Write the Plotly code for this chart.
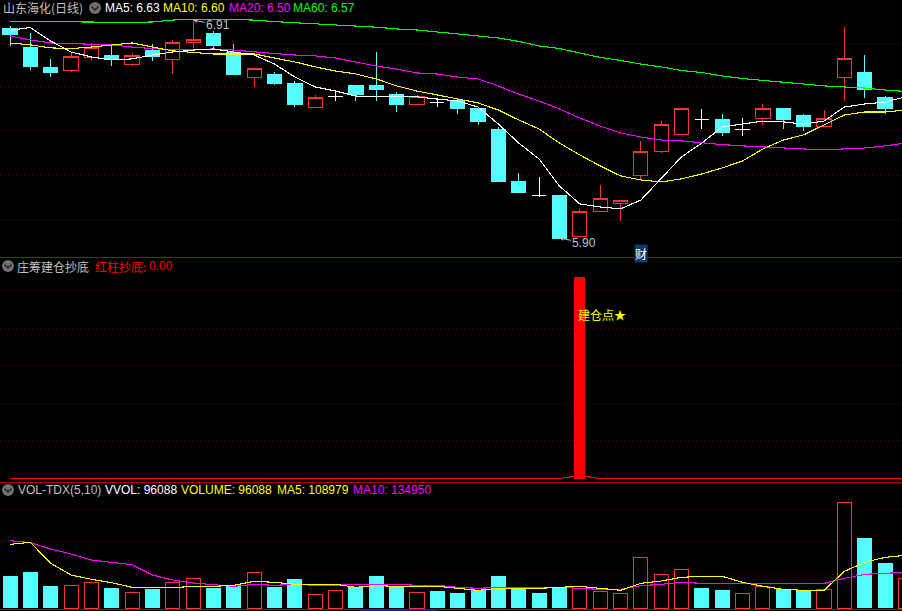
import plotly.graph_objects as go

# ---- price panel ----
opens = [6.873,6.781,6.688,6.674,6.737,6.748,6.706,6.771,6.725,6.804,6.850,6.762,6.642,6.660,6.618,6.503,6.557,6.609,6.609,6.567,6.521,6.526,6.535,6.498,6.405,6.160,6.098,6.099,5.905,6.025,6.058,6.188,6.299,6.382,6.447,6.447,6.405,6.452,6.498,6.466,6.419,6.646,6.669,6.549]
highs = [6.883,6.850,6.730,6.762,6.804,6.799,6.757,6.799,6.818,6.913,6.859,6.799,6.686,6.669,6.628,6.563,6.586,6.609,6.762,6.577,6.563,6.549,6.544,6.498,6.415,6.202,6.183,6.099,6.035,6.146,6.076,6.350,6.442,6.498,6.498,6.475,6.456,6.521,6.498,6.475,6.493,6.878,6.748,6.558]
lows = [6.790,6.679,6.646,6.669,6.720,6.697,6.697,6.720,6.660,6.781,6.771,6.660,6.600,6.609,6.507,6.503,6.535,6.535,6.535,6.484,6.517,6.507,6.475,6.424,6.160,6.113,6.090,5.900,5.905,6.025,5.979,6.174,6.294,6.382,6.405,6.373,6.373,6.424,6.405,6.396,6.419,6.535,6.549,6.475]
closes = [6.841,6.697,6.669,6.739,6.781,6.725,6.748,6.739,6.808,6.820,6.790,6.660,6.686,6.618,6.517,6.549,6.557,6.567,6.586,6.517,6.558,6.526,6.498,6.438,6.160,6.113,6.098,5.900,6.021,6.081,6.072,6.303,6.424,6.498,6.447,6.387,6.405,6.498,6.447,6.415,6.456,6.730,6.586,6.498]

ma5 = [6.862,6.876,6.813,6.762,6.739,6.725,6.730,6.748,6.762,6.771,6.776,6.762,6.748,6.706,6.646,6.600,6.581,6.558,6.554,6.554,6.554,6.544,6.535,6.507,6.428,6.340,6.266,6.141,6.058,6.044,6.035,6.076,6.178,6.276,6.340,6.415,6.428,6.442,6.438,6.428,6.442,6.507,6.521,6.530,6.554]
ma10 = [6.804,6.795,6.781,6.778,6.785,6.795,6.804,6.785,6.767,6.760,6.753,6.753,6.753,6.734,6.716,6.693,6.674,6.660,6.637,6.605,6.581,6.563,6.544,6.526,6.493,6.447,6.405,6.340,6.285,6.234,6.188,6.169,6.160,6.174,6.197,6.225,6.257,6.313,6.354,6.378,6.424,6.470,6.484,6.484,6.493]
ma20 = [6.836,6.818,6.804,6.801,6.799,6.795,6.785,6.778,6.771,6.774,6.776,6.771,6.762,6.755,6.748,6.744,6.734,6.716,6.697,6.683,6.665,6.660,6.646,6.637,6.605,6.567,6.535,6.498,6.456,6.419,6.387,6.368,6.354,6.350,6.340,6.333,6.327,6.322,6.317,6.313,6.308,6.313,6.317,6.327,6.340]
ma60 = [6.903,6.903,6.903,6.903,6.901,6.899,6.899,6.901,6.910,6.914,6.914,6.913,6.910,6.903,6.898,6.894,6.889,6.883,6.877,6.869,6.864,6.855,6.845,6.836,6.827,6.811,6.790,6.778,6.757,6.737,6.723,6.706,6.693,6.676,6.667,6.651,6.639,6.630,6.621,6.612,6.605,6.600,6.595,6.586,6.579]

# ---- signal panel ----
signal_bar_index = [28]
signal_bar_value = [107.2]
signal_line = [0]*27 + [0, 1.6, 0] + [0]*15

# ---- volume panel ----
volume = [96000,108000,66000,68000,77000,60000,47000,57000,77000,89000,60000,66000,107000,63000,87000,41000,53000,63000,96000,63000,47000,51000,45000,54000,96000,57000,45000,60000,60000,51000,44000,152000,101000,116000,60000,54000,44000,65000,57000,51000,56000,317000,210000,135000,89000]
vol_up = [0,0,0,1,1,0,1,0,1,1,0,0,1,0,0,1,1,0,0,0,1,0,0,0,0,0,0,0,1,1,1,1,1,1,0,0,1,1,0,0,1,1,0,0,1]
vol_ma5 = [191000,197000,134000,99000,86000,76000,62000,61000,61000,65000,65000,68000,80000,77000,71000,71000,71000,62000,67000,65000,65000,65000,59000,53000,59000,59000,59000,62000,65000,59000,53000,74000,81000,92000,95000,95000,77000,65000,56000,53000,53000,110000,137000,152000,158000]
vol_ma10 = [202000,196000,177000,162000,144000,137000,130000,99000,84000,75000,71000,65000,71000,68000,71000,68000,68000,71000,71000,71000,68000,68000,62000,59000,62000,62000,62000,62000,59000,56000,56000,67000,71000,77000,74000,74000,74000,74000,74000,74000,74000,89000,101000,104000,107000]

price_grid = [6.799, 6.598, 6.396, 6.192, 5.988]
signal_grid = [20, 40, 60, 80, 100]
volume_grid = [101100, 200100, 296100]

W, H = 902, 611
BG = "#000000"
RED = "#FF3232"
CYAN = "#54FFFF"
SEP = "#B00000"
GRID = "#7A0000"
GREY = "#C0C0C0"
LATIN = "Liberation Sans, Noto Sans CJK SC"
CJK = "Noto Sans CJK SC"

idx = list(range(45))
c_idx = [i for i in range(len(opens)) if opens[i] != closes[i]]
d_idx = [i for i in range(len(opens)) if opens[i] == closes[i]]

fig = go.Figure()

fig.add_trace(go.Candlestick(
    x=c_idx,
    open=[opens[i] for i in c_idx], high=[highs[i] for i in c_idx],
    low=[lows[i] for i in c_idx], close=[closes[i] for i in c_idx],
    increasing=dict(line=dict(color=RED, width=1), fillcolor=BG),
    decreasing=dict(line=dict(color=CYAN, width=1), fillcolor=CYAN),
    whiskerwidth=0, xaxis="x", yaxis="y", showlegend=False))

dx, dy = [], []
for i in d_idx:
    dx += [i - 0.35, i + 0.35, None, i, i, None]
    dy += [opens[i], closes[i], None, highs[i], lows[i], None]
fig.add_trace(go.Scatter(x=dx, y=dy, mode="lines", line=dict(color="#FFFFFF", width=1),
                         xaxis="x", yaxis="y", showlegend=False))

for vals, col in [(ma60, "#00FF00"), (ma20, "#FF00FF"), (ma10, "#FFFF00"), (ma5, "#FFFFFF")]:
    fig.add_trace(go.Scatter(x=idx, y=vals, mode="lines", line=dict(color=col, width=1.1),
                             xaxis="x", yaxis="y", showlegend=False))

fig.add_trace(go.Scatter(x=idx, y=signal_line, mode="lines", line=dict(color="#FF0000", width=1.2),
                         xaxis="x2", yaxis="y2", showlegend=False))
fig.add_trace(go.Bar(x=signal_bar_index, y=signal_bar_value, width=0.54,
                     marker=dict(color="#FF0000", line=dict(width=0)),
                     xaxis="x2", yaxis="y2", showlegend=False))

up_i = [i for i in idx if vol_up[i]]
dn_i = [i for i in idx if not vol_up[i]]
fig.add_trace(go.Bar(x=dn_i, y=[volume[i] for i in dn_i], width=0.737,
                     marker=dict(color=CYAN, line=dict(width=0)),
                     xaxis="x3", yaxis="y3", showlegend=False))
fig.add_trace(go.Bar(x=up_i, y=[volume[i] for i in up_i], width=0.69,
                     marker=dict(color=BG, line=dict(color=RED, width=1)),
                     xaxis="x3", yaxis="y3", showlegend=False))
for vals, col in [(vol_ma10, "#FF00FF"), (vol_ma5, "#FFFF00")]:
    fig.add_trace(go.Scatter(x=idx, y=vals, mode="lines", line=dict(color=col, width=1.1),
                             xaxis="x3", yaxis="y3", showlegend=False))


def dom(top, bottom):
    return [1 - bottom / H, 1 - top / H]


xr = [(0 - 10) / 20.35, (902 - 10) / 20.35]
xcommon = dict(range=xr, showgrid=False, zeroline=False, showticklabels=False, ticks="", showline=False, fixedrange=True)
ycommon = dict(zeroline=False, showticklabels=False, ticks="", showline=False, showgrid=True,
               gridcolor=GRID, griddash="1px,3px", gridwidth=1, fixedrange=True)

ann = []


def label(x, y, text, color, family=LATIN, size=12):
    ann.append(dict(text=text, x=x / W, y=1 - y / H, xref="paper", yref="paper", xanchor="left", yanchor="middle",
                    showarrow=False, font=dict(color=color, size=size, family=family), borderpad=0, borderwidth=0))


label(3, 8, "山东海化(日线)", GREY, CJK)
label(105, 8, "MA5: 6.63", "#FFFFFF")
label(163, 8, "MA10: 6.60", "#FFFF00")
label(229, 8, "MA20: 6.50", "#FF00FF")
label(293, 8, "MA60: 6.57", "#00FF00")
label(17, 266, "庄筹建仓抄底", GREY, CJK)
label(95, 266, "红柱抄底:", "#FF0000", CJK)
label(149, 266, "0.00", "#FF0000")
label(18, 490, "VOL-TDX(5,10)", GREY)
label(105, 490, "VVOL: 96088", "#FFFFFF")
label(181, 490, "VOLUME: 96088", "#FFFF00")
label(277, 490, "MA5: 108979", "#FFFF00")
label(353, 490, "MA10: 134950", "#FF00FF")

ann.append(dict(text="6.91", x=9, y=6.91, xref="x", yref="y", ax=25, ay=5, showarrow=True, arrowhead=2,
                arrowsize=0.8, arrowwidth=1, arrowcolor=GREY, standoff=0, font=dict(color=GREY, size=12, family=LATIN)))
ann.append(dict(text="5.90", x=27, y=5.90, xref="x", yref="y", ax=25, ay=5, showarrow=True, arrowhead=2,
                arrowsize=0.8, arrowwidth=1, arrowcolor=GREY, standoff=0, font=dict(color=GREY, size=12, family=LATIN)))
ann.append(dict(text="财", x=31, y=5.828, xref="x", yref="y", showarrow=False, bgcolor="#0A3A6E",
                font=dict(color="#FFFFFF", size=12, family=CJK), borderpad=0))
ann.append(dict(text="建仓点★", x=28, y=87, xref="x2", yref="y2", xanchor="left", yanchor="middle", showarrow=False,
                xshift=-4, font=dict(color="#FFFF00", size=12, family=CJK)))

shapes = []
for yy in [257.5, 482.5, 609.5]:
    shapes.append(dict(type="line", xref="paper", yref="paper", x0=0, x1=1, y0=1 - yy / H, y1=1 - yy / H,
                       line=dict(color=SEP, width=1), layer="above"))
shapes.append(dict(type="line", xref="paper", yref="paper", x0=360 / W, x1=437 / W, y0=1 - 610.5 / H, y1=1 - 610.5 / H,
                   line=dict(color="#1010A0", width=1), layer="above"))
for cx, cy in [(95, 8), (8, 266), (8, 490)]:
    shapes.append(dict(type="circle", xref="paper", yref="paper", x0=(cx - 6) / W, x1=(cx + 6) / W,
                       y0=1 - (cy + 6) / H, y1=1 - (cy - 6) / H, fillcolor="#707070", line=dict(width=0), layer="above"))
    shapes.append(dict(type="path", xref="paper", yref="paper",
                       path=f"M {(cx-3.5)/W} {1-(cy-1.5)/H} L {cx/W} {1-(cy+2)/H} L {(cx+3.5)/W} {1-(cy-1.5)/H}",
                       line=dict(color="#202020", width=1.5), layer="above"))

fig.update_layout(
    width=W, height=H, margin=dict(l=0, r=0, t=0, b=0, pad=0, autoexpand=False),
    paper_bgcolor=BG, plot_bgcolor=BG, showlegend=False, barmode="overlay", hovermode=False,
    boxgap=0.3, boxgroupgap=0,
    xaxis=dict(xcommon, domain=[0, 1], anchor="y", rangeslider=dict(visible=False)),
    xaxis2=dict(xcommon, domain=[0, 1], anchor="y2"),
    xaxis3=dict(xcommon, domain=[0, 1], anchor="y3"),
    yaxis=dict(ycommon, domain=dom(0, 257), range=[5.812, 7.003], tickvals=price_grid, anchor="x"),
    yaxis2=dict(ycommon, domain=dom(258, 482), range=[-1.86, 117.3], tickvals=signal_grid, anchor="x2"),
    yaxis3=dict(ycommon, domain=dom(483, 609), range=[-3000, 375000], tickvals=volume_grid, anchor="x3"),
    annotations=ann, shapes=shapes,
)

post = """
document.body.style.margin='0';
document.body.style.background='#000';
document.body.style.overflow='hidden';
document.querySelectorAll('.cartesianlayer path').forEach(function(p){p.style.shapeRendering='crispEdges';});
"""
fig.write_html("out.html", config=dict(displayModeBar=False), default_width=f"{W}px", default_height=f"{H}px",
               post_script=post)
